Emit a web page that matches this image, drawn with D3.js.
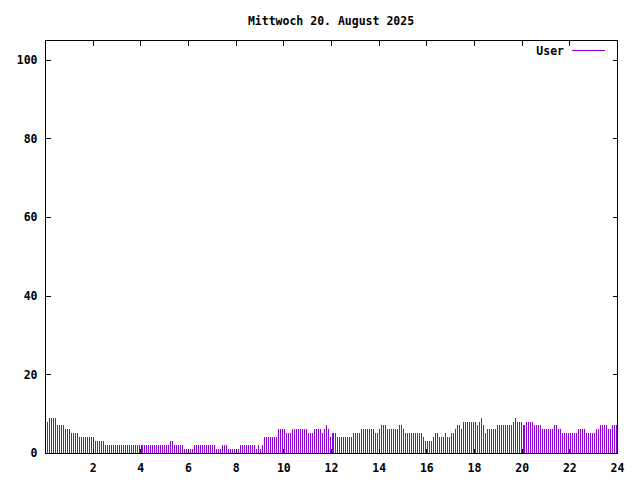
<!DOCTYPE html>
<html>
<head>
<meta charset="utf-8">
<script src="https://cdn.jsdelivr.net/npm/d3@7/dist/d3.min.js"></script>
<style>
    body { margin: 0; background: #fff; }
    svg { display: block; }
    text { font-family: "DejaVu Sans Mono", "Liberation Mono", monospace; font-weight: bold; font-size: 11.5px; fill: #000; }
</style>
</head>
<body>
<div id="chart"></div>
<script>
var title = "Mittwoch 20. August 2025";
var seriesName = "User";

// one value every 5 minutes, one row per hour (00:05 ... 24:00)
var users = [
    8, 9, 9, 9, 9, 7, 7, 7, 7, 6, 6, 6,
    5, 5, 5, 5, 4, 4, 4, 4, 4, 4, 4, 4,
    3, 3, 3, 3, 3, 2, 2, 2, 2, 2, 2, 2,
    2, 2, 2, 2, 2, 2, 2, 2, 2, 2, 2, 2,
    2, 2, 2, 2, 2, 2, 2, 2, 2, 2, 2, 2,
    2, 2, 3, 3, 2, 2, 2, 2, 2, 1, 1, 1,
    1, 1, 2, 2, 2, 2, 2, 2, 2, 2, 2, 2,
    2, 1, 1, 1, 2, 2, 2, 1, 1, 1, 1, 1,
    1, 2, 2, 2, 2, 2, 2, 2, 2, 1, 2, 1,
    2, 4, 4, 4, 4, 4, 4, 4, 6, 6, 6, 6,
    5, 5, 5, 6, 6, 6, 6, 6, 6, 6, 6, 5,
    5, 5, 6, 6, 6, 6, 5, 6, 7, 6, 4, 5,
    5, 5, 4, 4, 4, 4, 4, 4, 4, 4, 5, 5,
    5, 5, 6, 6, 6, 6, 6, 6, 6, 5, 5, 6,
    7, 7, 7, 6, 6, 6, 6, 6, 6, 7, 7, 6,
    5, 5, 5, 5, 5, 5, 5, 5, 5, 4, 3, 3,
    3, 3, 4, 5, 5, 4, 4, 4, 5, 4, 4, 5,
    5, 6, 7, 7, 6, 8, 8, 8, 8, 8, 8, 8,
    7, 8, 9, 7, 5, 6, 6, 6, 6, 6, 7, 7,
    7, 7, 7, 7, 7, 7, 8, 9, 8, 8, 8, 7,
    7, 8, 8, 8, 8, 7, 7, 7, 7, 6, 6, 6,
    6, 6, 6, 7, 7, 6, 6, 5, 5, 5, 5, 5,
    5, 5, 5, 6, 6, 6, 6, 5, 5, 5, 5, 5,
    6, 6, 7, 7, 7, 7, 6, 6, 7, 7, 7, 7
];

var xTicks = [2, 4, 6, 8, 10, 12, 14, 16, 18, 20, 22, 24];
var yTicks = [0, 20, 40, 60, 80, 100];

var width = 640,
    height = 480,
    plotLeft = 45,
    plotRight = 617,
    plotTop = 40,
    plotBottom = 453,
    tickLen = 5,
    color = "#9400d3";

var svg = d3.select("#chart").append("svg")
    .attr("width", width)
    .attr("height", height);

var x = d3.scaleLinear().domain([0, 24]).range([plotLeft, plotRight]);
// data pixels span one extra column, like the plotting program does
var xData = x.copy().range([plotLeft, plotRight + 1]);
var y = d3.scaleLinear().domain([0, 105]).range([plotBottom, plotTop]);

// sample time in hours
function hourOf(i) { return (i + 1) * 5 / 60; }

function px(v) { return Math.round(v) + 0.5; }

svg.append("clipPath")
    .attr("id", "plot-clip")
    .append("rect")
    .attr("x", plotLeft)
    .attr("y", plotTop)
    .attr("width", plotRight - plotLeft)
    .attr("height", plotBottom - plotTop + 1);

// impulses
svg.append("g")
    .attr("clip-path", "url(#plot-clip)")
    .attr("shape-rendering", "crispEdges")
    .selectAll("line")
    .data(users)
    .enter().append("line")
    .attr("x1", function (d, i) { return px(xData(hourOf(i))); })
    .attr("x2", function (d, i) { return px(xData(hourOf(i))); })
    .attr("y1", y(0))
    .attr("y2", function (d) { return Math.round(y(d)); })
    .attr("stroke", color)
    .attr("stroke-width", 1);

// axes with mirrored inward ticks
var bottomAxis = d3.axisBottom(x).tickValues(xTicks).tickSize(-tickLen).tickPadding(tickLen + 5).tickFormat(d3.format("d"));
var topAxis = d3.axisTop(x).tickValues(xTicks).tickSize(-tickLen).tickFormat("");
var leftAxis = d3.axisLeft(y).tickValues(yTicks).tickSize(-tickLen).tickPadding(tickLen + 3).tickFormat(d3.format("d"));
var rightAxis = d3.axisRight(y).tickValues(yTicks).tickSize(-tickLen).tickFormat("");

function styleAxis(g) {
    g.attr("shape-rendering", "crispEdges");
    g.select(".domain").remove();
    g.selectAll(".tick line").attr("stroke", "#000");
    g.selectAll("text").attr("font-family", null).attr("font-size", null).style("fill", "#000");
}

svg.append("g").attr("transform", "translate(0," + (plotBottom + 0.5) + ")").call(bottomAxis).call(styleAxis);
svg.append("g").attr("transform", "translate(0," + (plotTop + 0.5) + ")").call(topAxis).call(styleAxis);
svg.append("g").attr("transform", "translate(" + (plotLeft + 0.5) + ",0)").call(leftAxis).call(styleAxis);
svg.append("g").attr("transform", "translate(" + (plotRight + 0.5) + ",0)").call(rightAxis).call(styleAxis);

// border
svg.append("rect")
    .attr("x", plotLeft + 0.5)
    .attr("y", plotTop + 0.5)
    .attr("width", plotRight - plotLeft)
    .attr("height", plotBottom - plotTop)
    .attr("fill", "none")
    .attr("stroke", "#000")
    .attr("shape-rendering", "crispEdges");

// title
svg.append("text")
    .attr("x", (plotLeft + plotRight) / 2)
    .attr("y", 25)
    .attr("text-anchor", "middle")
    .text(title);

// legend
var legend = svg.append("g").attr("transform", "translate(0,50)");
legend.append("text")
    .attr("x", 564)
    .attr("y", 5)
    .attr("text-anchor", "end")
    .text(seriesName);
legend.append("line")
    .attr("x1", 572).attr("x2", 605)
    .attr("y1", 0.5).attr("y2", 0.5)
    .attr("stroke", color)
    .attr("shape-rendering", "crispEdges");
</script>
</body>
</html>
